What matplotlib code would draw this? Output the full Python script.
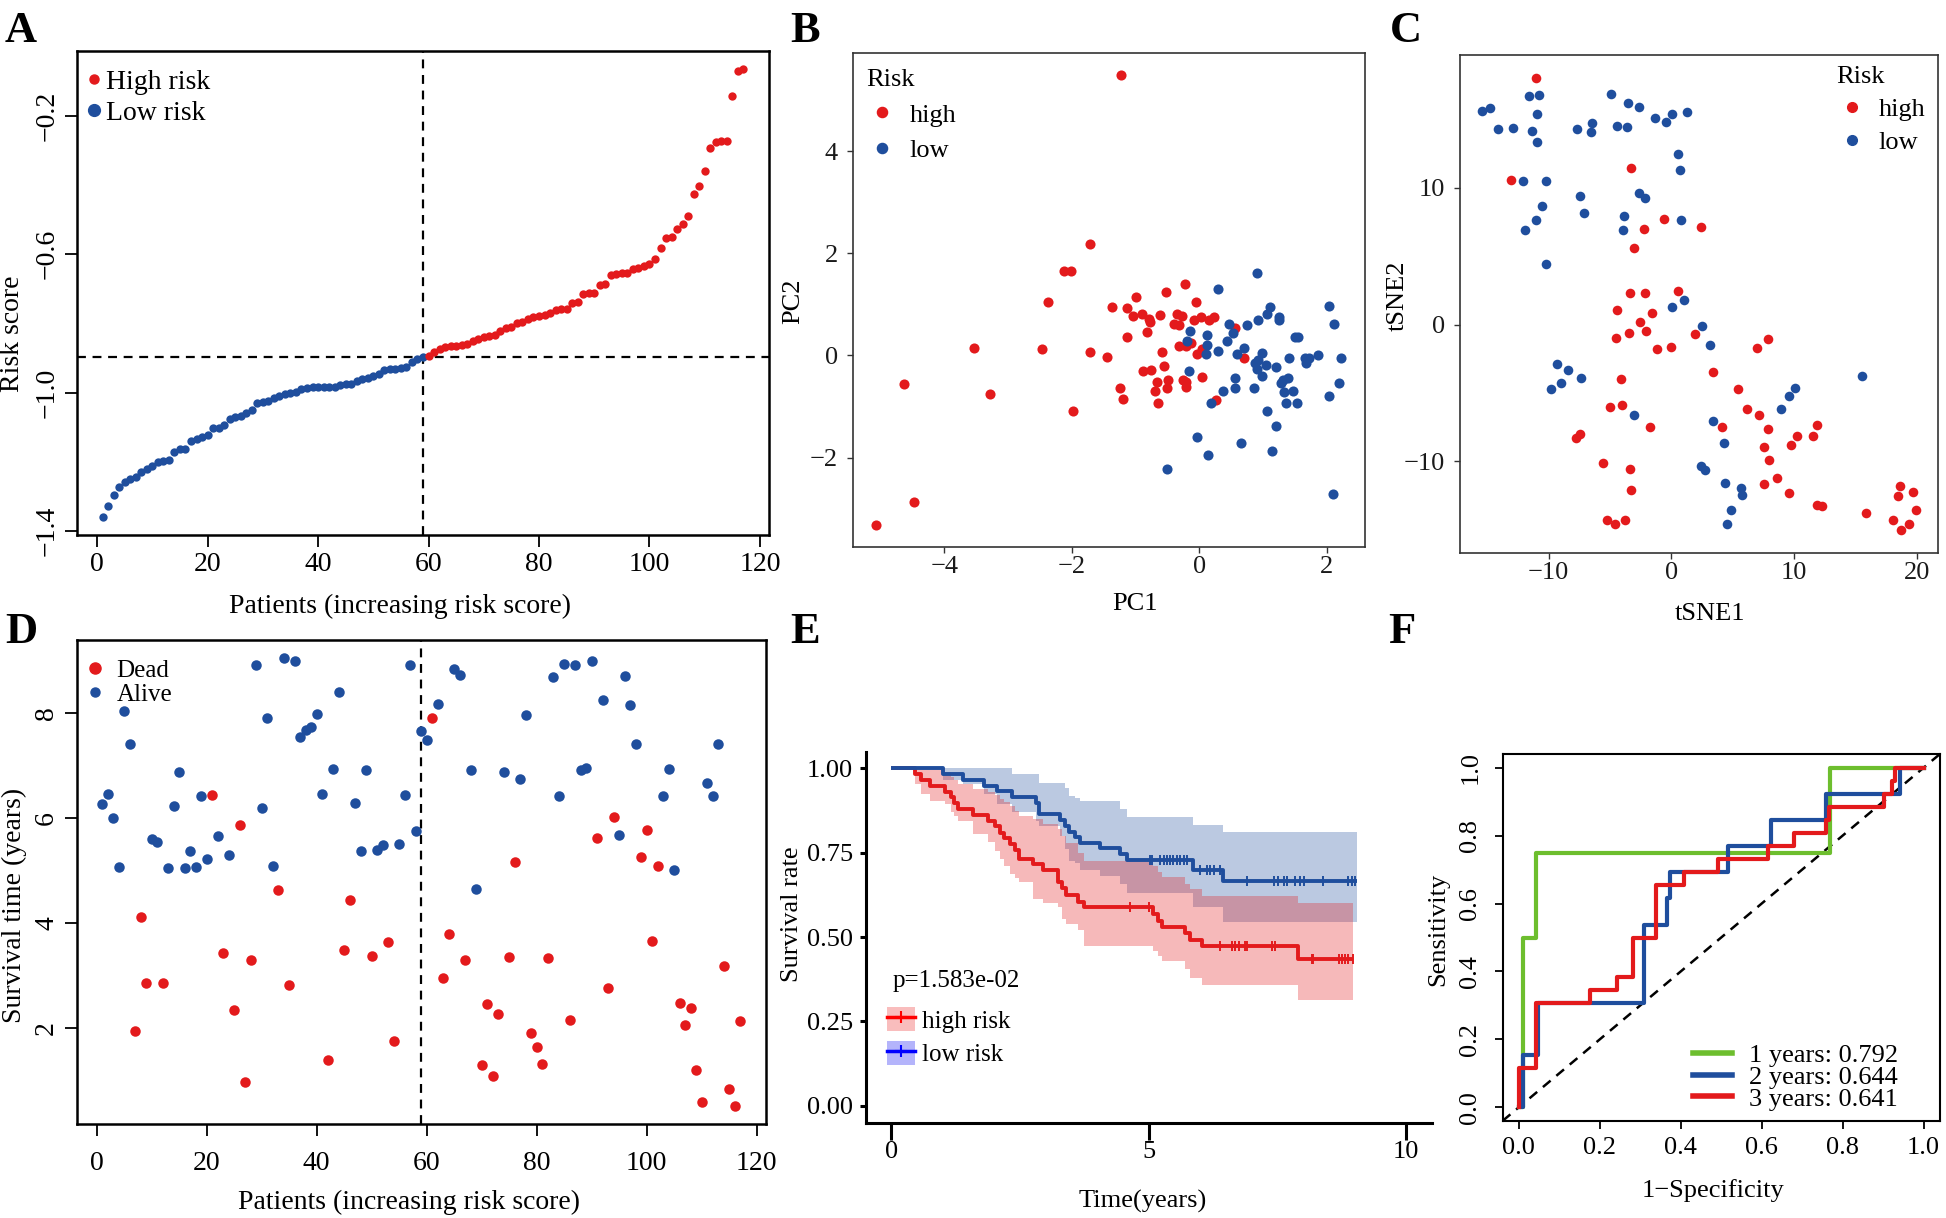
import numpy as np
import matplotlib
matplotlib.use("Agg")
import matplotlib.pyplot as plt
from matplotlib.lines import Line2D
from matplotlib.patches import Patch
from matplotlib.legend_handler import HandlerTuple

plt.rcParams["font.family"] = "Liberation Serif"
plt.rcParams["font.size"] = 19
plt.rcParams["axes.unicode_minus"] = True

RED = "#E31A1C"
BLUE = "#1F4E9D"
GREEN = "#6DBE2E"

# ---------------- A: risk score curve (sorted) ----------------
risk_low = [-1.359, -1.328, -1.294, -1.271, -1.257, -1.248, -1.242, -1.229, -1.221, -1.211,
            -1.200, -1.198, -1.194, -1.171, -1.162, -1.162, -1.138, -1.134, -1.128, -1.122,
            -1.103, -1.102, -1.094, -1.077, -1.071, -1.067, -1.059, -1.051, -1.029, -1.027,
            -1.023, -1.014, -1.008, -1.005, -1.000, -0.997, -0.989, -0.985, -0.983, -0.983,
            -0.983, -0.982, -0.982, -0.979, -0.976, -0.974, -0.965, -0.960, -0.957, -0.951,
            -0.945, -0.934, -0.931, -0.930, -0.929, -0.925, -0.911, -0.902, -0.897]
risk_high = [-0.894, -0.882, -0.874, -0.869, -0.866, -0.864, -0.862, -0.858, -0.850, -0.845,
             -0.839, -0.837, -0.832, -0.823, -0.814, -0.811, -0.799, -0.797, -0.787, -0.782,
             -0.779, -0.776, -0.770, -0.762, -0.759, -0.757, -0.741, -0.737, -0.714, -0.713,
             -0.713, -0.690, -0.685, -0.659, -0.657, -0.654, -0.654, -0.642, -0.639, -0.633,
             -0.629, -0.613, -0.583, -0.553, -0.549, -0.528, -0.512, -0.491, -0.425, -0.402,
             -0.361, -0.293, -0.277, -0.274, -0.274, -0.143, -0.071, -0.066]

# ---------------- B: PCA ----------------
pc1_high = [-1.23, -1.72, -2.13, -2.02, -2.38, -3.53, -2.47, -4.64, -3.28, -4.48,
            -5.07, -1.72, -1.44, -1.98, -1.37, -1.14, -1.13, -0.99, -1.04, -0.90,
            -0.79, -0.78, -0.82, -0.61, -0.52, -0.23, -0.35, -0.27, -0.39, -0.31,
            -0.05, -0.08, 0.03, 0.16, 0.23, 0.56, -0.59, -0.55, -0.88, -0.76,
            -1.25, -1.19, -0.66, -0.49, -0.69, -0.51, -0.65, -0.26, -0.21, -0.21,
            -0.31, -0.21, -0.13, -0.04, 0.04, 0.04, 0.26, 0.70]
pc2_high = [5.48, 2.18, 1.65, 1.65, 1.05, 0.15, 0.12, -0.55, -0.75, -2.87,
            -3.31, 0.07, -0.03, -1.09, 0.94, 0.37, 0.92, 1.15, 0.77, 0.82,
            0.72, 0.65, 0.46, 0.80, 1.24, 1.40, 0.82, 0.77, 0.62, 0.60,
            1.05, 0.70, 0.75, 0.69, 0.75, 0.53, 0.07, -0.21, -0.31, -0.28,
            -0.63, -0.86, -0.52, -0.48, -0.69, -0.64, -0.94, -0.48, -0.52, -0.62,
            0.19, 0.18, 0.25, 0.02, 0.12, -0.42, -0.87, -0.05]
pc1_low = [0.90, 0.30, 2.04, 2.11, 1.11, 1.07, 1.25, 1.26, 0.92, 0.75,
           0.46, -0.15, 0.12, 0.53, 0.44, -0.19, 0.13, 0.30, 0.10, 0.60,
           0.70, 0.98, 1.50, 1.55, 1.41, 1.66, 1.72, 1.87, 2.23, 0.87,
           0.93, 1.05, 1.20, 1.68, 0.90, 0.99, 0.56, 1.31, 1.40, 1.29,
           2.20, 0.56, 0.86, -0.16, 0.38, 1.33, 1.47, 0.18, 1.36, 1.54,
           2.04, 1.06, 1.20, -0.03, 0.65, 0.14, 1.14, -0.51, 2.10]
pc2_low = [1.62, 1.30, 0.96, 0.62, 0.94, 0.82, 0.75, 0.69, 0.69, 0.60,
           0.61, 0.48, 0.40, 0.44, 0.29, 0.29, 0.21, 0.08, 0.03, 0.02,
           0.15, 0.04, 0.36, 0.36, -0.05, -0.05, -0.05, 0.00, -0.06, -0.15,
           -0.09, -0.19, -0.22, -0.14, -0.27, -0.40, -0.44, -0.48, -0.44, -0.54,
           -0.54, -0.63, -0.63, -0.31, -0.69, -0.72, -0.69, -0.94, -0.94, -0.94,
           -0.79, -1.09, -1.39, -1.59, -1.71, -1.94, -1.88, -2.23, -2.72]

# ---------------- C: tSNE ----------------
tsne1_high = [-11.07, -13.04, -3.28, -0.60, -2.21, 2.45, -3.07, -3.37, -2.12, 0.54,
              -4.39, -1.61, -2.57, -2.06, -3.46, -4.51, -1.13, -0.03, 1.91, 7.01,
              7.91, 3.37, -4.12, 5.40, -5.04, -4.03, 6.18, 7.13, -1.76, 4.09,
              7.85, 11.85, 10.21, 11.58, -7.46, -7.76, 7.55, 9.79, 7.94, -5.58,
              -3.40, 8.63, -3.28, 7.55, 9.58, 11.88, 12.30, 15.85, 18.66, 18.45,
              19.73, 19.97, 18.06, 18.72, 19.40, -5.28, -4.60, -3.76]
tsne2_high = [18.07, 10.56, 11.49, 7.71, 6.98, 7.13, 5.60, 2.28, 2.34, 2.45,
              1.04, 0.87, 0.23, -0.46, -0.58, -1.01, -1.76, -1.62, -0.66, -1.70,
              -1.04, -3.49, -4.01, -4.73, -6.00, -5.89, -6.15, -6.58, -7.47, -7.45,
              -7.65, -7.36, -8.11, -8.17, -7.97, -8.31, -8.95, -8.83, -9.93, -10.13,
              -10.56, -11.20, -12.12, -11.69, -12.29, -13.16, -13.28, -13.74, -11.80, -12.55,
              -12.27, -13.56, -14.26, -15.01, -14.60, -14.31, -14.60, -14.31]
tsne1_low = [-15.46, -14.75, -14.15, -12.90, -11.64, -10.81, -10.99, -11.37, -10.99, -4.93,
             -3.52, -2.60, -6.45, -6.57, -7.73, -4.39, -3.64, -1.34, -0.42, 0.06,
             1.28, 0.51, 0.69, -12.12, -10.18, -7.46, -10.51, -7.10, -11.01, -11.97,
             -10.21, -2.66, -2.12, -3.85, -3.94, 0.78, 0.09, 1.04, 2.48, 3.13,
             -9.31, -8.45, -7.40, -9.01, -9.85, -3.01, 15.55, 10.09, 9.61, 8.90,
             3.43, 4.30, 2.39, 2.75, 4.39, 5.67, 5.79, 4.87, 4.54]
tsne2_low = [15.64, 15.82, 14.34, 14.40, 16.71, 16.83, 15.38, 14.14, 13.36, 16.88,
             16.22, 15.93, 14.78, 14.08, 14.31, 14.55, 14.46, 15.12, 14.81, 15.38,
             15.58, 12.50, 11.28, 10.48, 10.53, 9.38, 8.66, 8.17, 7.62, 6.93,
             4.44, 9.64, 9.29, 7.97, 6.96, 7.62, 1.30, 1.82, -0.09, -1.47,
             -2.89, -3.32, -3.92, -4.30, -4.73, -6.64, -3.78, -4.62, -5.19, -6.20,
             -7.01, -8.69, -10.33, -10.65, -11.57, -11.95, -12.47, -13.56, -14.57]

# ---------------- D: survival status (patients ordered by risk) ----------------
surv_time = [6.27, 6.45, 6.00, 5.07, 8.04, 7.40, 1.95, 4.12, 2.86, 5.60,
             5.54, 2.86, 5.05, 6.22, 6.87, 5.04, 5.36, 5.06, 6.42, 5.22,
             6.43, 5.66, 3.43, 5.29, 2.35, 5.87, 0.98, 3.29, 8.90, 6.19,
             7.89, 5.08, 4.62, 9.04, 2.82, 8.98, 7.54, 7.67, 7.72, 7.98,
             6.45, 1.40, 6.92, 8.39, 3.48, 4.44, 6.28, 5.36, 6.91, 3.37,
             5.39, 5.48, 3.63, 1.75, 5.51, 6.44, 8.90, 5.75, 7.66, 7.48,
             7.90, 8.17, 2.95, 3.80, 8.82, 8.72, 3.30, 6.91, 4.65, 1.31,
             2.46, 1.09, 2.27, 6.87, 3.35, 5.16, 6.74, 7.96, 1.90, 1.64,
             1.32, 3.33, 8.68, 6.42, 8.93, 2.15, 8.90, 6.91, 6.95, 8.98,
             5.62, 8.24, 2.77, 6.02, 5.68, 8.69, 8.15, 7.40, 5.26, 5.77,
             3.66, 5.08, 6.41, 6.93, 5.00, 2.48, 2.06, 2.38, 1.20, 0.60,
             6.66, 6.42, 7.40, 3.19, 0.84, 0.52, 2.13]
status = [0, 0, 0, 0, 0, 0, 1, 1, 1, 0,
          0, 1, 0, 0, 0, 0, 0, 0, 0, 0,
          1, 0, 1, 0, 1, 1, 1, 1, 0, 0,
          0, 0, 1, 0, 1, 0, 0, 0, 0, 0,
          0, 1, 0, 0, 1, 1, 0, 0, 0, 1,
          0, 0, 1, 1, 0, 0, 0, 0, 0, 0,
          1, 0, 1, 1, 0, 0, 1, 0, 0, 1,
          1, 1, 1, 0, 1, 1, 0, 0, 1, 1,
          1, 1, 0, 0, 0, 1, 0, 0, 0, 0,
          1, 0, 1, 1, 0, 0, 0, 0, 1, 1,
          1, 1, 0, 0, 0, 1, 1, 1, 1, 1,
          0, 0, 0, 1, 1, 1, 1]

# ---------------- E: Kaplan-Meier ----------------
km_t_high = [0, 0.46, 0.58, 0.75, 1.05, 1.15, 1.22, 1.30, 1.58, 1.88, 2.02, 2.11, 2.19, 2.30, 2.40,
             2.48, 2.75, 2.95, 3.23, 3.31, 3.39, 3.63, 3.75, 5.09, 5.19, 5.26, 5.71, 5.81, 6.03, 7.91]
km_s_high = [1.0, 0.983, 0.966, 0.948, 0.931, 0.914, 0.897, 0.879, 0.862, 0.845, 0.828, 0.810, 0.793, 0.776, 0.759,
             0.733, 0.716, 0.699, 0.664, 0.647, 0.624, 0.605, 0.588, 0.569, 0.549, 0.530, 0.511, 0.493, 0.475, 0.436]
km_lo_high = [1.0, 0.953, 0.924, 0.905, 0.894, 0.870, 0.858, 0.845, 0.806, 0.781, 0.756, 0.732, 0.712, 0.687, 0.675,
              0.663, 0.614, 0.600, 0.589, 0.554, 0.540, 0.520, 0.475, 0.460, 0.445, 0.430, 0.405, 0.380, 0.359, 0.314]
km_up_high = [1.0, 1.0, 1.0, 1.0, 0.99, 0.975, 0.965, 0.955, 0.94, 0.93, 0.92, 0.91, 0.90, 0.89, 0.875,
              0.86, 0.85, 0.835, 0.82, 0.80, 0.78, 0.75, 0.727, 0.712, 0.692, 0.677, 0.657, 0.643, 0.623, 0.600]
km_end_high = 8.98
km_t_low = [0, 1.01, 1.40, 1.80, 2.05, 2.34, 2.80, 2.86, 3.28, 3.37, 3.46, 3.56, 3.66, 4.06, 4.44, 4.57, 5.87, 6.45]
km_s_low = [1.0, 0.983, 0.966, 0.949, 0.932, 0.915, 0.898, 0.864, 0.847, 0.830, 0.813, 0.796, 0.780, 0.763,
            0.746, 0.729, 0.700, 0.667]
km_lo_low = [1.0, 0.965, 0.953, 0.924, 0.894, 0.870, 0.845, 0.830, 0.801, 0.761, 0.727, 0.720, 0.700, 0.682,
             0.658, 0.630, 0.590, 0.544]
km_up_low = [1.0, 1.0, 1.0, 1.0, 1.0, 0.985, 0.985, 0.958, 0.958, 0.943, 0.919, 0.912, 0.904, 0.904,
             0.879, 0.855, 0.833, 0.813]
km_end_low = 9.05
cens_high = [4.64, 5.00, 6.39, 6.62, 6.68, 6.75, 6.88, 6.91, 7.39, 7.46, 8.17, 8.20, 8.69, 8.75, 8.81, 8.88, 8.98]
cens_low = [5.03, 5.06, 5.22, 5.29, 5.35, 5.42, 5.48, 5.55, 5.61, 5.68, 5.74, 6.00, 6.13, 6.19, 6.26, 6.39,
            6.91, 7.43, 7.52, 7.62, 7.69, 7.85, 7.95, 8.01, 8.39, 8.88, 8.95, 9.01]
p_text = "p=1.583e-02"

# ---------------- F: time-dependent ROC ----------------
fpr_1y = [0, 0.009, 0.009, 0.043, 0.043, 0.770, 0.770, 1.0]
tpr_1y = [0, 0, 0.5, 0.5, 0.75, 0.75, 1.0, 1.0]
fpr_2y = [0, 0.009, 0.009, 0.048, 0.048, 0.308, 0.308, 0.365, 0.365, 0.373, 0.373, 0.517, 0.517,
          0.624, 0.624, 0.760, 0.760, 0.943, 0.943, 1.0]
tpr_2y = [0, 0, 0.154, 0.154, 0.308, 0.308, 0.538, 0.538, 0.615, 0.615, 0.692, 0.692, 0.769,
          0.769, 0.846, 0.846, 0.923, 0.923, 1.0, 1.0]
fpr_3y = [0, 0, 0.043, 0.043, 0.176, 0.176, 0.242, 0.242, 0.283, 0.283, 0.339, 0.339, 0.407, 0.407,
          0.493, 0.493, 0.616, 0.616, 0.681, 0.681, 0.760, 0.760, 0.767, 0.767, 0.902, 0.902,
          0.922, 0.922, 0.930, 0.930, 1.0]
tpr_3y = [0, 0.115, 0.115, 0.308, 0.308, 0.346, 0.346, 0.385, 0.385, 0.500, 0.500, 0.654, 0.654,
          0.692, 0.692, 0.731, 0.731, 0.769, 0.769, 0.808, 0.808, 0.846, 0.846, 0.885, 0.885,
          0.923, 0.923, 0.962, 0.962, 1.0, 1.0]
auc_labels = ["1 years: 0.792", "2 years: 0.644", "3 years: 0.641"]

# ---------------- layout helpers ----------------
W, H = 1946.0, 1218.0


def box(l, t, r, b):
    return [l / W, 1 - b / H, (r - l) / W, (b - t) / H]


def titles(ax, xlab, xpos, ylab, ypos, size=19):
    ax.set_xlabel(xlab, fontsize=size)
    ax.set_ylabel(ylab, fontsize=size)
    ax.xaxis.set_label_coords(*xpos)
    ax.yaxis.set_label_coords(*ypos)
    ax.xaxis.label.set_va("center")
    ax.yaxis.label.set_va("center")


def rstyle(ax, ticklen=8.5, xpad=4, ypad=4, lw=1.8, size=19):
    for s in ax.spines.values():
        s.set_linewidth(lw)
    ax.tick_params(direction="out", length=ticklen, width=1.3, labelsize=size)
    ax.tick_params(axis="x", pad=xpad)
    ax.tick_params(axis="y", pad=ypad, labelrotation=90)
    for lab in ax.get_yticklabels():
        lab.set_va("center")


def ggstyle(ax):
    for s in ax.spines.values():
        s.set_linewidth(1.2)
        s.set_color("#333333")
    ax.tick_params(direction="out", length=4.5, width=1.0, color="#333333",
                   labelsize=19, labelcolor="#1a1a1a")
    ax.tick_params(axis="x", pad=2)
    ax.tick_params(axis="y", pad=6.5)


fig = plt.figure(figsize=(19.46, 12.18), dpi=100)
dash = (0, (4, 3))

# ---- A ----
axA = fig.add_axes(box(77, 51.4, 769, 535))
n_low = len(risk_low)
pat_low = np.arange(1, n_low + 1)
pat_high = np.arange(n_low + 1, n_low + len(risk_high) + 1)
axA.scatter(pat_low, risk_low, s=36, color=BLUE, lw=0, zorder=3)
axA.scatter(pat_high, risk_high, s=36, color=RED, lw=0, zorder=3)
axA.margins(0.04)
axA.axhline(np.median(risk_low + risk_high), color="k", ls=dash, lw=1.6)
axA.axvline(n_low, color="k", ls=dash, lw=1.6)
axA.set_xticks(range(0, 121, 20))
axA.set_yticks([-1.4, -1.0, -0.6, -0.2])
rstyle(axA, size=20)
titles(axA, "Patients (increasing risk score)", (0.4668, -0.1468), "Risk score", (-0.0931, 0.4156), size=20)
hA = [Line2D([], [], ls="", marker="o", ms=6.5, color=RED),
      Line2D([], [], ls="", marker="o", ms=8.5, color=BLUE)]
axA.legend(hA, ["High risk", "Low risk"], loc="upper left", bbox_to_anchor=(0.012, 0.963),
           frameon=False, fontsize=20, handlelength=0.6, handletextpad=0.15,
           labelspacing=0.2, borderpad=0, borderaxespad=0)

# ---- B ----
axB = fig.add_axes(box(853, 53, 1364.5, 547))
axB.scatter(pc1_high, pc2_high, s=53, color=RED, lw=0, zorder=3)
axB.scatter(pc1_low, pc2_low, s=53, color=BLUE, lw=0, zorder=3)
axB.margins(0.05)
axB.set_xticks([-4, -2, 0, 2])
axB.set_yticks([-2, 0, 2, 4])
ggstyle(axB)
titles(axB, "PC1", (0.552, -0.1156), "PC2", (-0.1166, 0.498))
hB = [Line2D([], [], ls="", marker="o", ms=7.3, color=RED),
      Line2D([], [], ls="", marker="o", ms=7.3, color=BLUE)]
axB.legend(hB, ["high", "low"], title="Risk", loc="upper left", bbox_to_anchor=(0.025, 0.967),
           frameon=False, fontsize=19, title_fontsize=19, alignment="left",
           handlelength=1.26, handletextpad=0.41, labelspacing=0.45, borderpad=0, borderaxespad=0)

# ---- C ----
axC = fig.add_axes(box(1460, 55, 1938, 552.5))
axC.scatter(tsne1_high, tsne2_high, s=48, color=RED, lw=0, zorder=3)
axC.scatter(tsne1_low, tsne2_low, s=48, color=BLUE, lw=0, zorder=3)
axC.margins(0.05)
axC.set_xticks([-10, 0, 10, 20])
axC.set_yticks([-10, 0, 10])
ggstyle(axC)
titles(axC, "tSNE1", (0.523, -0.1236), "tSNE2", (-0.1305, 0.516))
hC = [Line2D([], [], ls="", marker="o", ms=7, color=RED),
      Line2D([], [], ls="", marker="o", ms=7, color=BLUE)]
axC.legend(hC, ["high", "low"], title="Risk", loc="upper left", bbox_to_anchor=(0.788, 0.978),
           frameon=False, fontsize=19, title_fontsize=19, alignment="left",
           handlelength=1.17, handletextpad=0.42, labelspacing=0.36, borderpad=0, borderaxespad=0)

# ---- D ----
axD = fig.add_axes(box(76.6, 640, 765.7, 1124))
patients = np.arange(1, len(surv_time) + 1)
st = np.array(status)
tt = np.array(surv_time)
axD.scatter(patients[st == 1], tt[st == 1], s=57, color=RED, lw=0, zorder=3)
axD.scatter(patients[st == 0], tt[st == 0], s=57, color=BLUE, lw=0, zorder=3)
axD.margins(0.04)
axD.axvline(n_low, color="k", ls=dash, lw=1.6)
axD.set_xticks(range(0, 121, 20))
axD.set_yticks([2, 4, 6, 8])
rstyle(axD, xpad=11, size=20)
titles(axD, "Patients (increasing risk score)", (0.4824, -0.162), "Survival time (years)",
       (-0.0899, 0.4514), size=20)
hD = [Line2D([], [], ls="", marker="o", ms=8, color=RED),
      Line2D([], [], ls="", marker="o", ms=6.5, color=BLUE)]
axD.legend(hD, ["Dead", "Alive"], loc="upper left", bbox_to_anchor=(0.016, 0.96),
           frameon=False, fontsize=18, handlelength=0.6, handletextpad=0.55,
           labelspacing=0.07, borderpad=0, borderaxespad=0)

# ---- E ----
axE = fig.add_axes(box(865.7, 751.6, 1431.7, 1122.7))


def km_arrays(t, v, end):
    return np.r_[t, end], np.r_[v, v[-1]]


for t, s, lo, up, end, col in [(km_t_low, km_s_low, km_lo_low, km_up_low, km_end_low, BLUE),
                               (km_t_high, km_s_high, km_lo_high, km_up_high, km_end_high, RED)]:
    tx, lo2 = km_arrays(t, lo, end)
    _, up2 = km_arrays(t, up, end)
    axE.fill_between(tx, lo2, up2, step="post", color=col, alpha=0.3, lw=0)

for t, s, end, cens, col in [(km_t_high, km_s_high, km_end_high, cens_high, RED),
                             (km_t_low, km_s_low, km_end_low, cens_low, BLUE)]:
    tx, sx = km_arrays(t, s, end)
    axE.step(tx, sx, where="post", color=col, lw=2.8, solid_capstyle="butt")
    idx = np.searchsorted(t, cens, side="right") - 1
    axE.plot(cens, np.array(s)[idx], ls="", marker="|", ms=7, mew=1.4, color=col)

axE.set_xlim(-0.5, 10.5)
axE.set_ylim(-0.05, 1.05)
axE.set_xticks([0, 5, 10])
axE.set_yticks([0, 0.25, 0.5, 0.75, 1.0])
axE.set_yticklabels(["0.00", "0.25", "0.50", "0.75", "1.00"])
for side in ["top", "right"]:
    axE.spines[side].set_visible(False)
for side in ["left", "bottom"]:
    axE.spines[side].set_linewidth(2.2)
axE.tick_params(labelsize=19, width=2.2, direction="out")
axE.tick_params(axis="x", length=12, pad=1)
axE.tick_params(axis="y", length=4.5, pad=4.5)
titles(axE, "Time(years)", (0.49, -0.2126), "Survival rate", (-0.1299, 0.5608))
axE.text(0.048, 0.382, p_text, transform=axE.transAxes, va="center", ha="left", fontsize=18)
hE = [(Patch(facecolor="#F9BDBD", edgecolor="none"),
       Line2D([], [], color="#FF0000", lw=2.5, marker="+", ms=9, mew=1.5)),
      (Patch(facecolor="#B4B4FB", edgecolor="none"),
       Line2D([], [], color="#0000FF", lw=2.5, marker="+", ms=9, mew=1.5))]
axE.legend(hE, ["high risk", "low risk"], handler_map={tuple: HandlerTuple(ndivide=1)},
           loc="upper left", bbox_to_anchor=(0.037, 0.311), frameon=False, fontsize=18,
           handlelength=1.13, handleheight=1.08, handletextpad=0.27, labelspacing=0.34,
           borderpad=0, borderaxespad=0)

# ---- F ----
axF = fig.add_axes(box(1502.7, 754.2, 1939.7, 1120.8))
axF.axline((0, 0), (1, 1), color="k", ls=dash, lw=1.8)
axF.plot(fpr_1y, tpr_1y, color=GREEN, lw=3)
axF.plot(fpr_2y, tpr_2y, color=BLUE, lw=3)
axF.plot(fpr_3y, tpr_3y, color=RED, lw=3)
axF.set_xlim(-0.04, 1.04)
axF.set_ylim(-0.04, 1.04)
axF.set_xticks(np.arange(0, 1.01, 0.2))
axF.set_yticks(np.arange(0, 1.01, 0.2))
rstyle(axF, ticklen=5.5, xpad=6, ypad=10, lw=1.5)
titles(axF, "1\u2212Specificity", (0.482, -0.189), "Sensitivity", (-0.147, 0.5235))
hF = [Line2D([], [], color=GREEN, lw=4), Line2D([], [], color=BLUE, lw=4),
      Line2D([], [], color=RED, lw=4)]
axF.legend(hF, auc_labels, loc="lower right", bbox_to_anchor=(0.905, 0.028), frameon=False,
           fontsize=19, handlelength=1.46, handletextpad=0.66, labelspacing=-0.07,
           borderpad=0, borderaxespad=0)

# ---- panel letters ----
for letter, x, y in [("A", 5, 41.5), ("B", 790, 41.5), ("C", 1390, 41.5),
                     ("D", 5, 643), ("E", 790, 643), ("F", 1388, 643)]:
    fig.text(x / W, 1 - y / H, letter, fontsize=32, fontweight="bold", ha="left", va="baseline")

fig.savefig("out.png", dpi=100)
